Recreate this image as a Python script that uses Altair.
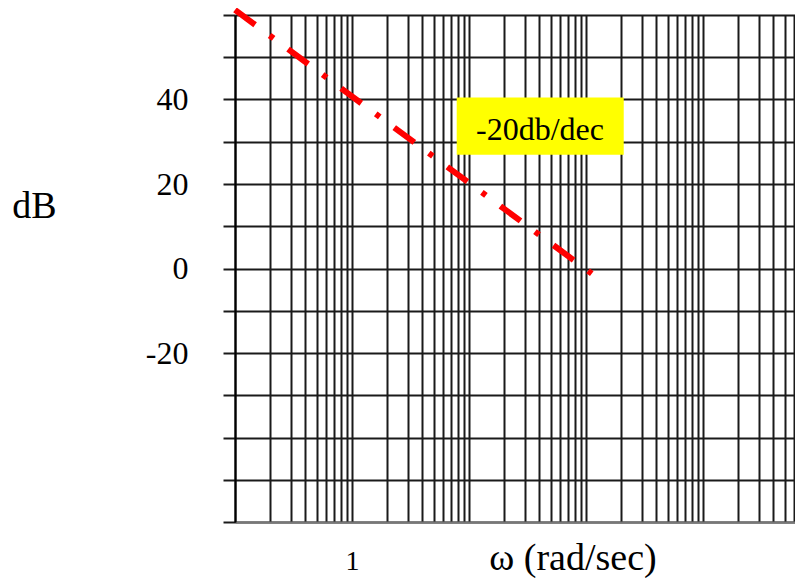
import altair as alt
import pandas as pd

# ---- data ----
decades = [0.1, 1, 10, 100, 1000]
mantissas = [1, 2, 3, 4, 5, 6, 7, 8, 9]
x_grid = [d * m for d in decades for m in mantissas if d * m <= 6100]
y_ticks = [-60, -50, -40, -30, -20, -10, 0, 10, 20, 30, 40, 50, 60]
y_labelled = [40, 20, 0, -20]
x_labelled = [1]

line_w = [0.1, 112]
line_db = [61.2, -1.2]

box_w = [7.85, 210]
box_db = [40.5, 26.9]
note_w = [40.4]
note_db = [30.5]
note_text = ["-20db/dec"]

FONT = "Liberation Serif"

line_df = pd.DataFrame({"w": line_w, "db": line_db})
box_df = pd.DataFrame({"w": [box_w[0]], "w2": [box_w[1]], "db": [box_db[0]], "db2": [box_db[1]]})
note_df = pd.DataFrame({"w": note_w, "db": note_db, "t": note_text})

xscale = alt.Scale(type="log", domain=[0.1, 6110], nice=False)
yscale = alt.Scale(domain=[-60, 60], nice=False, zero=False)

x_axis = alt.Axis(
    values=x_grid,
    grid=True, gridColor="#1a1a1a", gridWidth=2, gridOpacity=1,
    ticks=False,
    domain=True, domainColor="#777777", domainWidth=2,
    labelExpr="indexof(" + str(x_labelled) + ", datum.value) >= 0 ? '' + datum.value : ''",
    labelFont=FONT, labelFontSize=28, labelColor="black", labelPadding=25,
    labelOverlap=False, labelFlush=False, labelBound=False,
    title="ω (rad/sec)", titleFont=FONT, titleFontSize=38, titleFontWeight="normal",
    titleColor="black", titleX=337.5, titleY=47.5, titleAlign="center",
    titleBaseline="alphabetic", titleAnchor="start",
)

y_axis = alt.Axis(
    values=y_ticks,
    grid=True, gridColor="#1a1a1a", gridWidth=2, gridOpacity=1,
    ticks=True, tickColor="#1a1a1a", tickWidth=2, tickSize=12,
    domain=True, domainColor="black", domainWidth=2,
    labelExpr="indexof(" + str(y_labelled) + ", datum.value) >= 0 ? '' + datum.value : ''",
    labelFont=FONT, labelFontSize=32, labelColor="black", labelPadding=35,
    labelOverlap=False, labelBound=False, labelFlush=False,
    title="dB", titleFont=FONT, titleFontSize=38, titleFontWeight="normal",
    titleColor="black", titleAngle=0, titleX=-201, titleY=202,
    titleAlign="center", titleBaseline="alphabetic", titleAnchor="start",
)

line = alt.Chart(line_df).mark_line(
    color="#ff0000", strokeWidth=6, strokeDash=[25, 18, 5, 18], strokeCap="butt", clip=False
).encode(
    x=alt.X("w:Q", scale=xscale, axis=x_axis),
    y=alt.Y("db:Q", scale=yscale, axis=y_axis),
)

box = alt.Chart(box_df).mark_rect(color="#ffff00", opacity=1).encode(
    x=alt.X("w:Q", scale=xscale),
    x2="w2:Q",
    y=alt.Y("db:Q", scale=yscale),
    y2="db2:Q",
)

note = alt.Chart(note_df).mark_text(
    font=FONT, fontSize=32, color="black", align="center", baseline="alphabetic"
).encode(
    x=alt.X("w:Q", scale=xscale),
    y=alt.Y("db:Q", scale=yscale),
    text="t:N",
)

chart = alt.layer(line, box, note).properties(
    width=560, height=507,
    autosize=alt.AutoSizeParams(type="none"),
    padding={"left": 227, "top": 7, "right": 0, "bottom": 56},
    background="white",
).configure_view(stroke=None)

chart.save("out.html", embed_options={"renderer": "svg", "actions": False})
